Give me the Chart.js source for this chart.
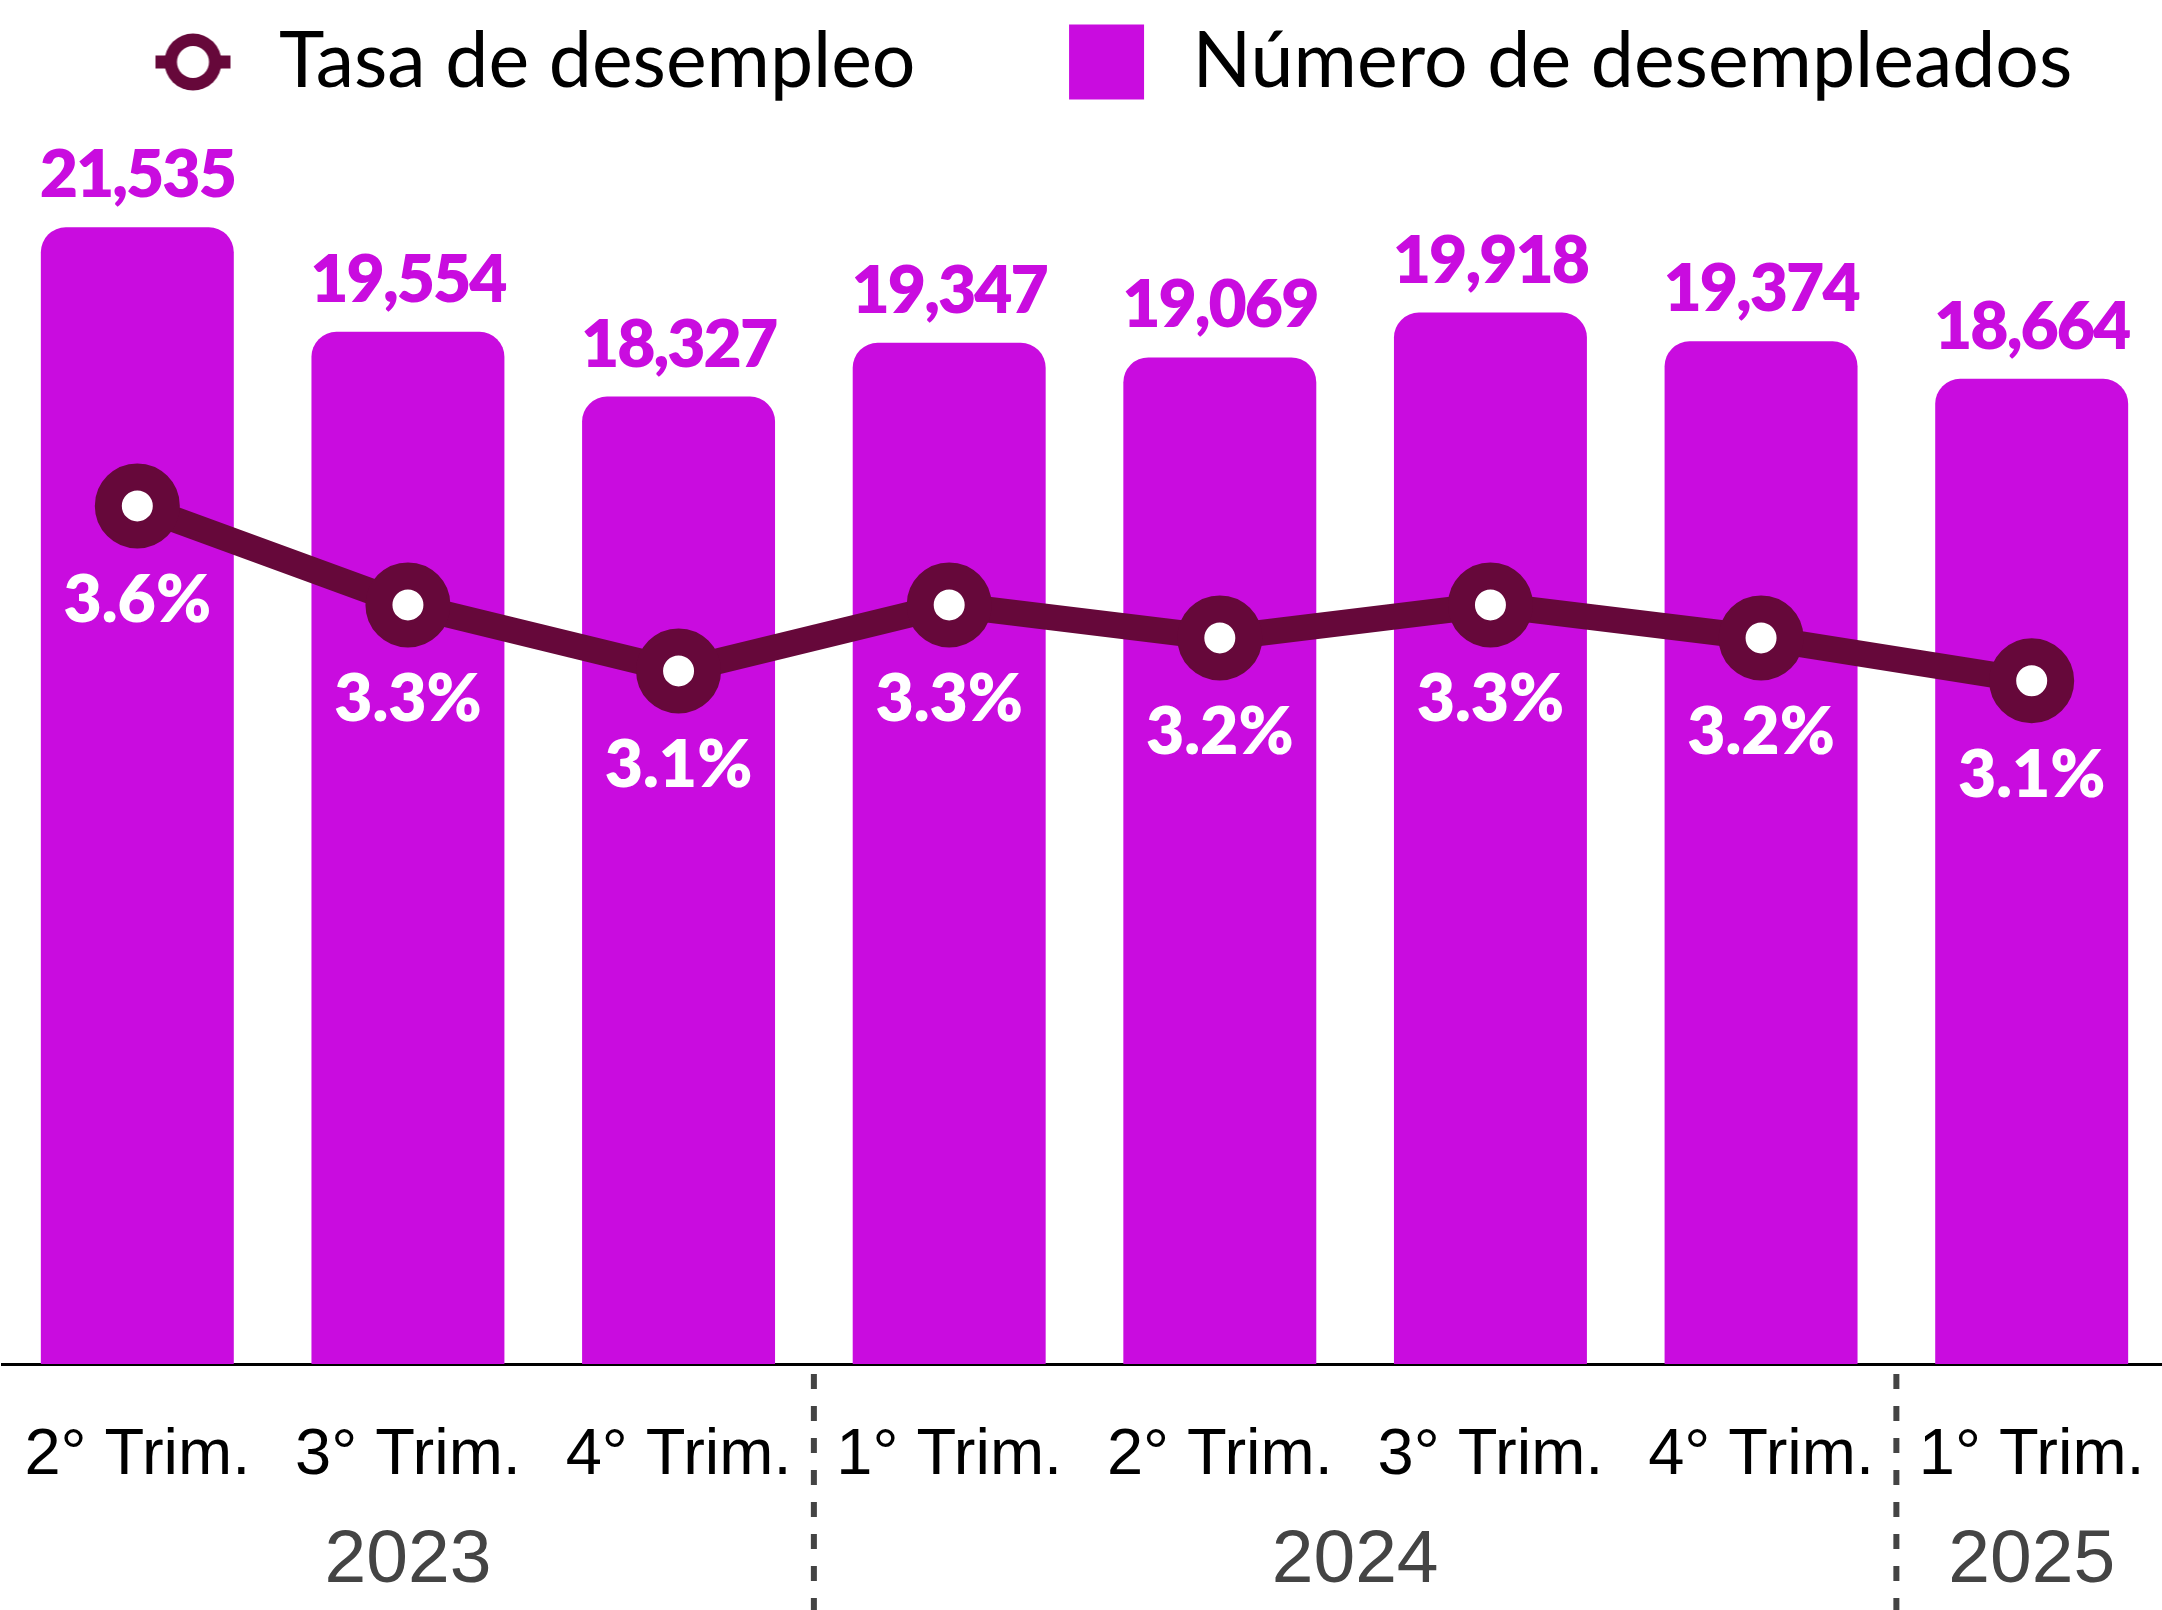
<!DOCTYPE html>
<html>
<head>
<meta charset="utf-8">
<script src="https://cdn.jsdelivr.net/npm/chart.js@4.4.1/dist/chart.umd.min.js"></script>
<style>
  html, body { margin: 0; padding: 0; background: #fff; overflow: hidden; }
  #wrap { width: 2167px; height: 1610px; }
</style>
</head>
<body>
<div id="wrap"><canvas id="chart"></canvas></div>
<script>
const quarters = ['2° Trim.', '3° Trim.', '4° Trim.', '1° Trim.', '2° Trim.', '3° Trim.', '4° Trim.', '1° Trim.'];
const unemployed = [21535, 19554, 18327, 19347, 19069, 19918, 19374, 18664];
const rate = [3.6, 3.3, 3.1, 3.3, 3.2, 3.3, 3.2, 3.07];
const years = ['2023', '2024', '2025'];
const yearFirst = [0, 3, 7];
const yearLast = [2, 6, 7];

const purple = '#c90cdf';
const maroon = '#66083a';

// legend icons, drawn on small canvases (blank space on the left sets the gaps)
function legendIcon(kind) {
  const c = document.createElement('canvas');
  c.width = 215;
  c.height = 76;
  const g = c.getContext('2d');
  const x0 = 130, cy = 38;
  if (kind === 'line') {
    g.fillStyle = maroon;
    g.fillRect(x0, cy - 6.5, 75, 13);
    g.beginPath(); g.arc(x0 + 37.5, cy, 28.5, 0, Math.PI * 2); g.fill();
    g.fillStyle = '#fff';
    g.beginPath(); g.arc(x0 + 37.5, cy, 16, 0, Math.PI * 2); g.fill();
  } else {
    g.fillStyle = purple;
    g.fillRect(x0, 0.5, 75, 75);
  }
  return c;
}
const icons = [legendIcon('line'), legendIcon('bar')];

const valueLabels = {
  id: 'valueLabels',
  afterDatasetsDraw(chart) {
    const ctx = chart.ctx;
    ctx.save();
    ctx.textAlign = 'center';
    ctx.textBaseline = 'alphabetic';
    ctx.font = '800 66px Lato';
    ctx.letterSpacing = '-2px';
    ctx.fillStyle = purple;
    chart.getDatasetMeta(1).data.forEach((bar, i) => {
      ctx.fillText(unemployed[i].toLocaleString('en-US'), bar.x, bar.y - 30);
    });
    ctx.letterSpacing = '0px';
    ctx.fillStyle = '#fff';
    chart.getDatasetMeta(0).data.forEach((pt, i) => {
      ctx.fillText(rate[i].toFixed(1) + '%', pt.x, pt.y + 116);
    });
    ctx.restore();
  }
};

const yearAxis = {
  id: 'yearAxis',
  afterDraw(chart) {
    const { ctx, chartArea } = chart;
    const x = chart.scales.x;
    const bottom = chart.height;
    ctx.save();
    ctx.font = '75px "Liberation Sans"';
    ctx.fillStyle = '#444';
    ctx.textAlign = 'center';
    ctx.textBaseline = 'alphabetic';
    years.forEach((yr, i) => {
      const cx = (x.getPixelForValue(yearFirst[i]) + x.getPixelForValue(yearLast[i])) / 2;
      ctx.fillText(yr, cx, bottom - 28);
      if (i < years.length - 1) {
        const sx = (x.getPixelForValue(yearLast[i]) + x.getPixelForValue(yearLast[i] + 1)) / 2;
        ctx.strokeStyle = '#444';
        ctx.lineWidth = 6;
        ctx.setLineDash([15, 17]);
        ctx.beginPath();
        ctx.moveTo(sx, chartArea.bottom + 10);
        ctx.lineTo(sx, bottom);
        ctx.stroke();
      }
    });
    ctx.restore();
  }
};

const ctx = document.getElementById('chart').getContext('2d');
new Chart(ctx, {
  type: 'bar',
  data: {
    labels: quarters,
    datasets: [
      {
        type: 'line',
        label: 'Tasa de desempleo',
        data: rate,
        yAxisID: 'y1',
        order: 0,
        borderColor: maroon,
        borderWidth: 26,
        pointRadius: 29,
        pointHoverRadius: 29,
        pointBorderWidth: 27,
        pointBorderColor: maroon,
        pointBackgroundColor: '#fff',
        tension: 0,
        clip: false
      },
      {
        label: 'Número de desempleados',
        data: unemployed,
        yAxisID: 'y',
        order: 1,
        backgroundColor: purple,
        borderRadius: 25,
        borderSkipped: 'start',
        categoryPercentage: 1,
        barPercentage: 0.713
      }
    ]
  },
  options: {
    responsive: true,
    maintainAspectRatio: false,
    animation: false,
    layout: { autoPadding: false, padding: { left: 2, right: 0, top: 0, bottom: 0 } },
    plugins: {
      tooltip: { enabled: false },
      legend: {
        position: 'top',
        align: 'start',
        labels: {
          usePointStyle: true,
          pointStyleWidth: 215,
          padding: 23.5,
          color: '#000',
          font: { family: 'Lato', size: 77 },
          generateLabels(chart) {
            const items = Chart.defaults.plugins.legend.labels.generateLabels(chart);
            items.forEach((it) => { it.pointStyle = icons[it.datasetIndex]; });
            return items;
          }
        }
      }
    },
    scales: {
      x: {
        grid: { display: false, drawTicks: false },
        border: { display: true, color: '#000', width: 3 },
        ticks: {
          color: '#000',
          font: { family: 'Liberation Sans', size: 65, lineHeight: 2.52 },
          padding: 10,
          maxRotation: 0,
          autoSkip: false
        },
        afterFit(scale) { scale.height = 246; }
      },
      y: { display: false, min: 0, max: 23747 },
      y1: { display: false, min: 1, max: 4.798 }
    }
  },
  plugins: [valueLabels, yearAxis]
});
</script>
</body>
</html>
